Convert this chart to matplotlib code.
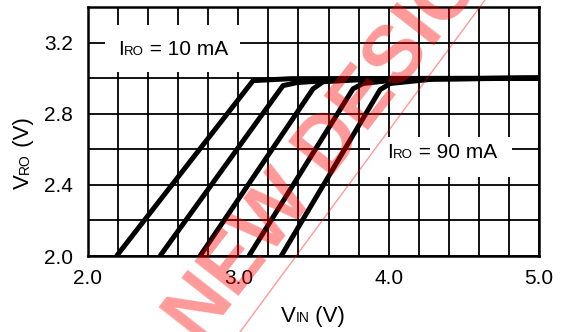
import numpy as np
import matplotlib.pyplot as plt
from matplotlib.font_manager import FontProperties
from matplotlib.patches import Rectangle

plt.rcParams['font.family'] = ['Liberation Sans', 'DejaVu Sans']

# V_RO vs V_IN, one curve per load current (10 ... 90 mA)
vin_1 = [2.19, 3.098, 3.35, 5.0]
vro_1 = [2.00, 2.986, 2.997, 3.0]
vin_2 = [2.479, 3.297, 3.39, 3.70, 5.0]
vro_2 = [2.00, 2.958, 2.975, 2.993, 3.0]
vin_3 = [2.745, 3.497, 3.564, 3.90, 5.0]
vro_3 = [2.00, 2.940, 2.980, 2.995, 3.0]
vin_4 = [3.070, 3.763, 3.83, 4.10, 5.0]
vro_4 = [2.00, 2.940, 2.970, 2.995, 3.0]
vin_5 = [3.285, 3.943, 4.01, 4.30, 5.0]
vro_5 = [2.00, 2.935, 2.970, 2.995, 3.0]
curves = [(vin_1, vro_1), (vin_2, vro_2), (vin_3, vro_3), (vin_4, vro_4), (vin_5, vro_5)]

xtick_labels = ["2.0", "3.0", "4.0", "5.0"]
ytick_labels = ["2.0", "2.4", "2.8", "3.2"]

W, H = 563, 332
fig = plt.figure(figsize=(W / 100, H / 100), dpi=100)
ax = fig.add_axes([88 / W, 1 - 256 / H, 451 / W, 249 / H])

ax.set_xlim(2.0, 5.0)
ax.set_ylim(2.0, 3.4)

xt = np.round(np.arange(2.0, 5.001, 0.2), 1)
yt = np.round(np.arange(2.0, 3.401, 0.2), 1)
ax.set_xticks(xt)
ax.set_yticks(yt)
ax.set_xticklabels([f"{v:.1f}" if f"{v:.1f}" in xtick_labels else "" for v in xt], fontsize=15)
ax.set_yticklabels([f"{v:.1f}" if f"{v:.1f}" in ytick_labels else "" for v in yt], fontsize=15)
ax.tick_params(length=0)
ax.tick_params(axis='x', pad=9)
ax.tick_params(axis='y', pad=11)
ax.grid(True, color='black', linewidth=1.3)
for s in ax.spines.values():
    s.set_linewidth(1.8)

for vin, vro in curves:
    ax.plot(vin, vro, color='black', linewidth=3.6, solid_capstyle='butt', zorder=3)

# white boxes behind the current labels
ax.add_patch(Rectangle((2.113, 3.037), 0.898, 0.264, facecolor='white', edgecolor='none', zorder=4))
ax.add_patch(Rectangle((3.876, 2.445), 0.945, 0.225, facecolor='white', edgecolor='none', zorder=4))

renderer = fig.canvas.get_renderer()


def pieces(x0, y0, parts, rotation=0, center=False):
    # x0, y0: pixels from top-left; parts: (text, size); baseline-aligned
    widths = []
    for s, sz in parts:
        fp = FontProperties(family='Liberation Sans', size=sz)
        widths.append(renderer.get_text_width_height_descent(s, fp, ismath=False)[0])
    if center:
        off = -sum(widths) / 2
    else:
        off = 0
    for (s, sz), w in zip(parts, widths):
        if rotation == 0:
            px, py = x0 + off, y0
        else:
            px, py = x0, y0 - off
        fig.text(px / W, 1 - py / H, s, fontsize=sz, rotation=rotation, rotation_mode='anchor',
                 ha='left', va='baseline', zorder=6)
        off += w


pieces(118, 55, [("I", 15), ("RO", 9.5), (" = 10 mA", 15)])
pieces(387, 158, [("I", 15), ("RO", 9.5), (" = 90 mA", 15)])
pieces(313, 322, [("V", 16), ("IN", 10), (" (V)", 16)], center=True)
pieces(29, 153, [("V", 16), ("RO", 10), (" (V)", 16)], rotation=90, center=True)

# watermark
fig.text(343 / W, 1 - 128 / H, "NEW DESIGN", fontsize=58, fontweight='bold', color='red',
         alpha=0.4, rotation=52, ha='center', va='center', zorder=10)
fig.add_artist(plt.Line2D([240 / W, 485 / W], [0, 1], color='red', alpha=0.4,
                          linewidth=1.0, zorder=10))

fig.savefig("out.png", dpi=100)
